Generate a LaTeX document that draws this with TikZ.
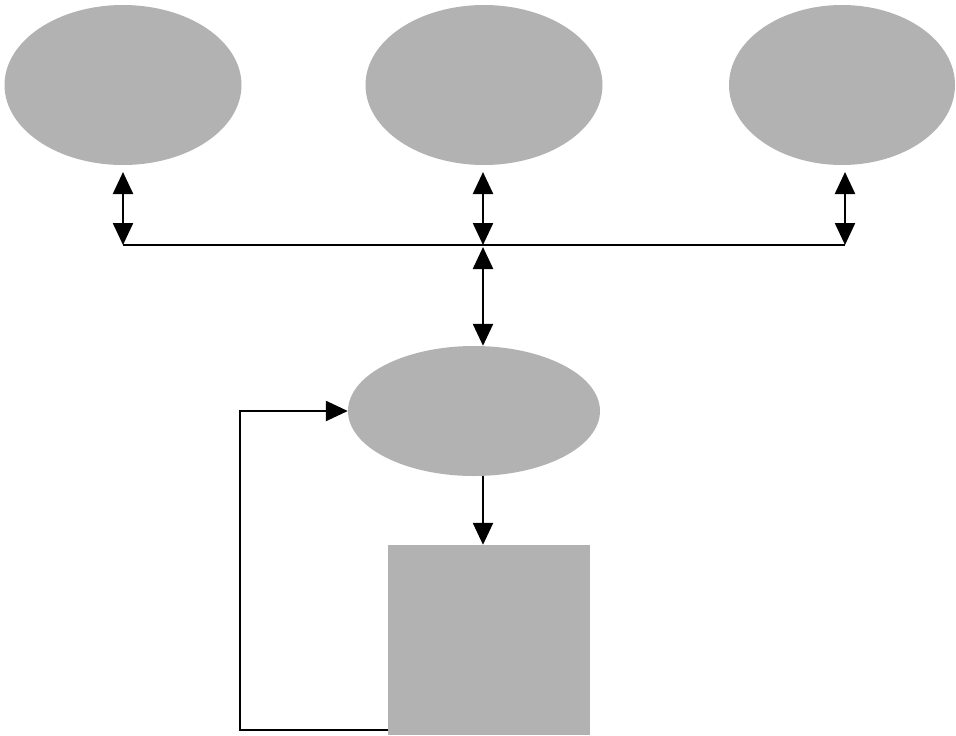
\documentclass[tikz,border=0pt]{standalone}
\usetikzlibrary{shapes.geometric,arrows.meta}
\begin{document}
\begin{tikzpicture}[x=1pt,y=-1pt,
  blob/.style={ellipse,fill=black!30,draw=none,inner sep=0pt},
  sheet/.style={rectangle,fill=black!30,draw=none,inner sep=0pt},
  tip/.tip={Triangle[width=20pt,length=22pt]},
  link/.style={line width=2.4pt,-tip},
  duplex/.style={line width=2.4pt,tip-tip},
  bus/.style={line width=2.4pt}]
\useasboundingbox (0,0) rectangle (956,736);
% upper row of sources
\node[blob,minimum width=237pt,minimum height=160pt] (s1) at (123,85) {};
\node[blob,minimum width=237pt,minimum height=160pt] (s2) at (484,85) {};
\node[blob,minimum width=226pt,minimum height=160pt] (s3) at (842,85) {};
% central process and output sheet
\node[blob,minimum width=252pt,minimum height=130pt] (p) at (474,411) {};
\node[sheet,minimum width=202pt,minimum height=190pt] (out) at (489,640) {};
% shared bus and its taps
\coordinate (t1) at (123,172);
\coordinate (t2) at (483,172);
\coordinate (t3) at (845,172);
\coordinate (b1) at (123,245);
\coordinate (b2) at (483,245);
\coordinate (b3) at (845,245);
\coordinate (b2low) at (483,247);
\draw[bus] (b1) -- (b3);
\draw[duplex] (t1) -- (b1);
\draw[duplex] (t2) -- (b2);
\draw[duplex] (t3) -- (b3);
\draw[duplex] (b2low) -- (p.north -| b2);
% process to output
\draw[link] (p.south -| b2) -- (out.north -| b2);
% feedback loop from output back to process
\coordinate (fb) at (388,730);
\draw[link] (fb) -- (240,730) |- (p.west);
\end{tikzpicture}
\end{document}
